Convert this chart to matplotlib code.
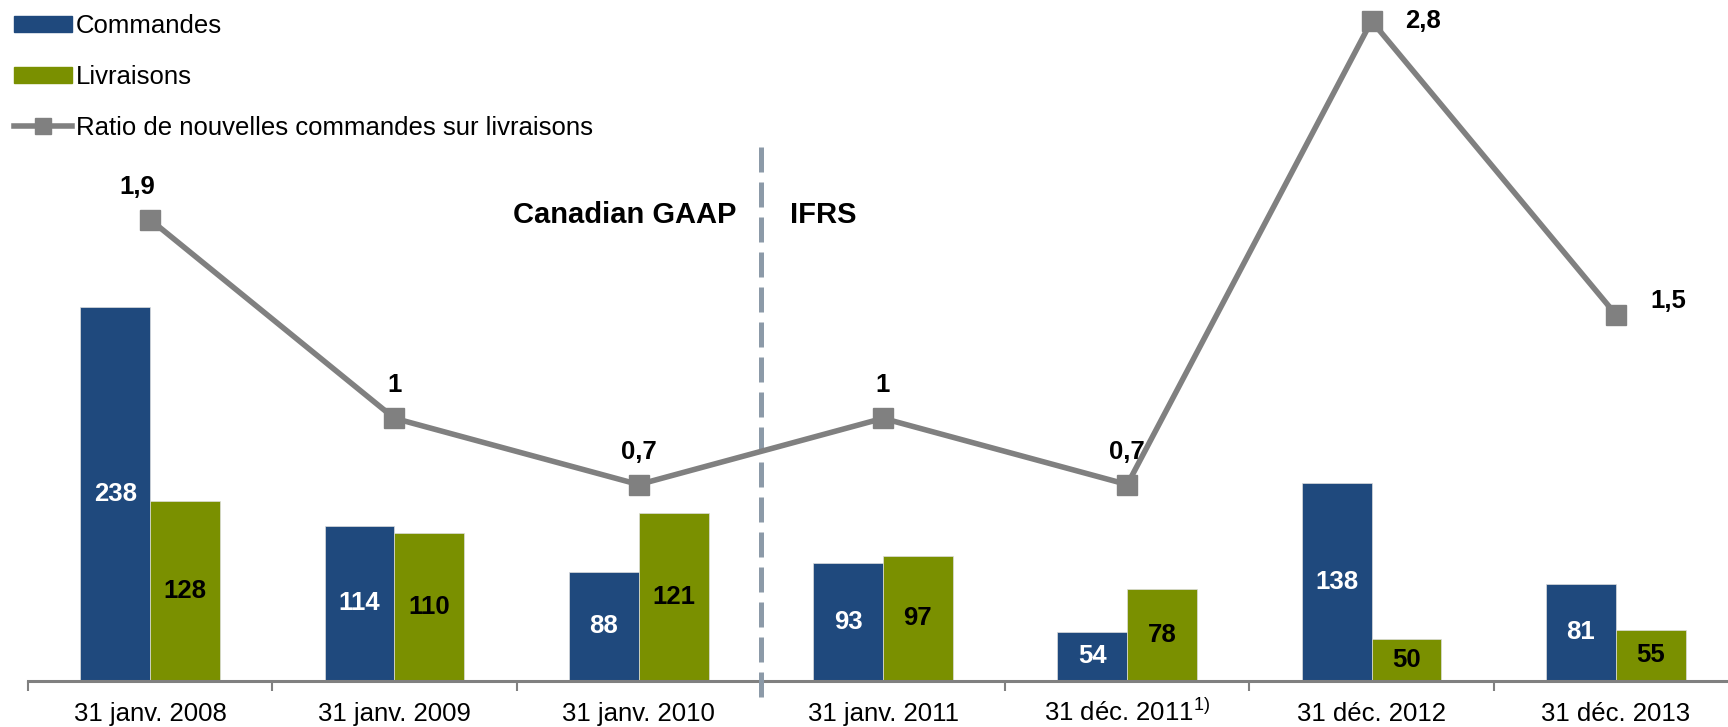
import matplotlib
matplotlib.use("Agg")
import matplotlib.pyplot as plt
from matplotlib.patches import Patch
from matplotlib.lines import Line2D
import numpy as np

categories = ["31 janv. 2008", "31 janv. 2009", "31 janv. 2010", "31 janv. 2011",
              "31 déc. 2011$^{1)}$", "31 déc. 2012", "31 déc. 2013"]
commandes = [238, 114, 88, 93, 54, 138, 81]
livraisons = [128, 110, 121, 97, 78, 50, 55]
ratio = [1.9, 1.0, 0.7, 1.0, 0.7, 2.8, 1.47]
ratio_labels = ["1,9", "1", "0,7", "1", "0,7", "2,8", "1,5"]

blue = "#1F497D"
green = "#7A9000"
grey = "#808080"
plt.rcParams["font.family"] = ["Liberation Sans", "DejaVu Sans"]
plt.rcParams["mathtext.fontset"] = "custom"
plt.rcParams["mathtext.rm"] = "Liberation Sans"

fig = plt.figure(figsize=(17.28, 7.27), dpi=100)
ax = fig.add_axes([28 / 1728, 46 / 727, 1710 / 1728, 681 / 727])
ymin, ymax = 26, 412
x = np.arange(len(categories))
w = 0.286

ax.bar(x - w / 2, commandes, w, color=blue, edgecolor="#dddddd", linewidth=0.5)
ax.bar(x + w / 2, livraisons, w, color=green, edgecolor="#dddddd", linewidth=0.5)
for i in range(len(x)):
    ax.text(x[i] - w / 2, (ymin + commandes[i]) / 2, str(commandes[i]), color="white",
            fontsize=18.5, fontweight="bold", ha="center", va="center")
    ax.text(x[i] + w / 2, (ymin + livraisons[i]) / 2, str(livraisons[i]), color="black",
            fontsize=18.5, fontweight="bold", ha="center", va="center")

ax.set_xlim(-0.5, 6.5)
ax.set_ylim(ymin, ymax)
ax.set_yticks([])
for s in ["top", "right", "left"]:
    ax.spines[s].set_visible(False)
ax.spines["bottom"].set_color(grey)
ax.spines["bottom"].set_linewidth(2.2)
ax.set_xticks(np.arange(-0.5, 7, 1))
ax.set_xticklabels([])
ax.tick_params(axis="x", length=7, width=1.5, color=grey)
ax.set_xticks(x, minor=True)
ax.set_xticklabels(categories, minor=True, fontsize=18.5)
ax.tick_params(axis="x", which="minor", length=0, pad=29)
for lbl in ax.get_xticklabels(minor=True):
    lbl.set_va("baseline")

ax2 = ax.twinx()
ax2.set_ylim(-0.19, 2.895)
ax2.set_yticks([])
for s in ["top", "right", "left", "bottom"]:
    ax2.spines[s].set_visible(False)
ax2.plot(x, ratio, color=grey, linewidth=4, marker="s", markersize=14, zorder=3)
offsets = [(-13, 33), (0, 33), (0, 33), (0, 33), (0, 33), (51, 0), (52, 14)]
for i in range(len(x)):
    ax2.annotate(ratio_labels[i], (x[i], ratio[i]), xytext=offsets[i],
                 textcoords="offset pixels", ha="center", va="center",
                 fontsize=18.5, fontweight="bold")

ax2.plot([2.5, 2.5], [-0.263, 2.26], color="#8C9AA8", linewidth=3.6,
         linestyle=(0, (5, 2)), clip_on=False, zorder=1)
ax2.text(2.398, 1.92, "Canadian GAAP", ha="right", va="center", fontsize=21, fontweight="bold")
ax2.text(2.62, 1.92, "IFRS", ha="left", va="center", fontsize=21, fontweight="bold")

handles = [Patch(color=blue), Patch(color=green),
           Line2D([], [], color=grey, linewidth=4, marker="s", markersize=12)]
fig.legend(handles, ["Commandes", "Livraisons", "Ratio de nouvelles commandes sur livraisons"],
           loc="upper left", bbox_to_anchor=(0.0, 1.0), frameon=False,
           prop={"size": 18.5}, handlelength=2.25, handleheight=0.6,
           handletextpad=0.15, labelspacing=1.05, borderaxespad=0.2, borderpad=0.35)

fig.savefig("out.png", dpi=100)
